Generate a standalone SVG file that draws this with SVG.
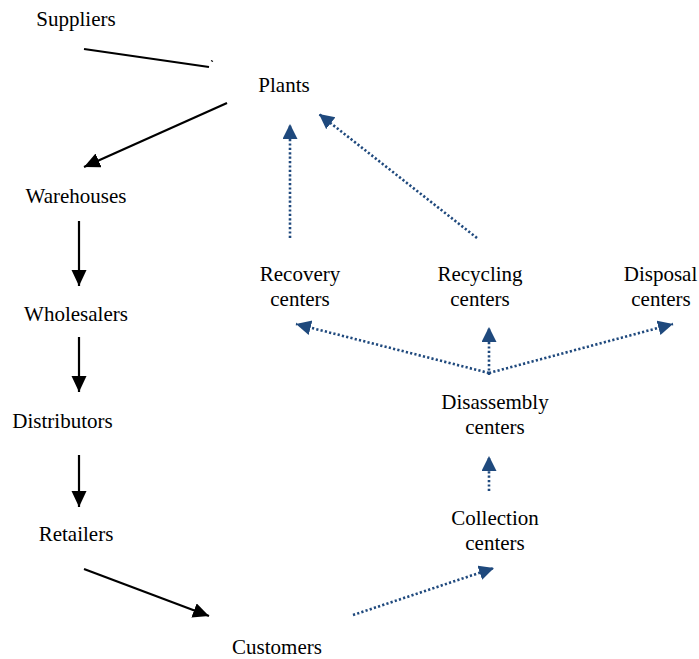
<svg xmlns="http://www.w3.org/2000/svg" width="699" height="659" viewBox="0 0 699 659">
<style>
text{font-family:"Liberation Serif","Times New Roman",serif;font-size:21px;fill:#000;text-anchor:middle}
.solid{stroke:#000;stroke-width:2.2;fill:none;marker-end:url(#ab)}
.dot{stroke:#1F497D;stroke-width:2.6;stroke-dasharray:2.2 2.2;fill:none;marker-end:url(#ad)}
</style>
<defs>
<marker id="ab" markerUnits="userSpaceOnUse" markerWidth="18" markerHeight="16" refX="16" refY="7.5" orient="auto"><path d="M0,0 L16,7.5 L0,15 z" fill="#000"/></marker>
<marker id="ad" markerUnits="userSpaceOnUse" markerWidth="18" markerHeight="16" refX="15" refY="7.5" orient="auto"><path d="M0,0 L15,7.5 L0,15 z" fill="#1F497D"/></marker>
</defs>
<rect width="699" height="659" fill="#fff"/>
<g id="connectors">
<line x1="84" y1="49" x2="209" y2="67" stroke="#000" stroke-width="2.2"/>
<line x1="211" y1="60.5" x2="213" y2="61.5" stroke="#000" stroke-width="1.2"/>
<line class="solid" x1="227" y1="103" x2="84" y2="167"/>
<line class="solid" x1="79" y1="221" x2="79" y2="286"/>
<line class="solid" x1="79" y1="337" x2="79" y2="392"/>
<line class="solid" x1="79" y1="455" x2="79" y2="507"/>
<line class="solid" x1="84" y1="569" x2="209" y2="616"/>
<line class="dot" x1="353" y1="615" x2="494" y2="568"/>
<line class="dot" x1="489" y1="491" x2="489" y2="456"/>
<line class="dot" x1="489" y1="375" x2="489" y2="327"/>
<line class="dot" x1="489" y1="373" x2="296" y2="324"/>
<line class="dot" x1="489" y1="373" x2="673" y2="324"/>
<line class="dot" x1="290" y1="238" x2="290" y2="124"/>
<line class="dot" x1="477" y1="238" x2="319" y2="114"/>
</g>
<g id="suppliers"><text x="76" y="26">Suppliers</text></g>
<g id="plants"><text x="284" y="92">Plants</text></g>
<g id="warehouses"><text x="76" y="203">Warehouses</text></g>
<g id="wholesalers"><text x="76" y="321">Wholesalers</text></g>
<g id="distributors"><text x="62.5" y="428">Distributors</text></g>
<g id="retailers"><text x="76" y="541">Retailers</text></g>
<g id="customers"><text x="277" y="654">Customers</text></g>
<g id="recovery"><text x="300" y="281">Recovery</text><text x="300" y="306">centers</text></g>
<g id="recycling"><text x="480" y="281">Recycling</text><text x="480" y="306">centers</text></g>
<g id="disposal"><text x="660.5" y="281">Disposal</text><text x="661" y="306">centers</text></g>
<g id="disassembly"><text x="495" y="409">Disassembly</text><text x="495" y="434">centers</text></g>
<g id="collection"><text x="495" y="525">Collection</text><text x="495" y="550">centers</text></g>
</svg>
